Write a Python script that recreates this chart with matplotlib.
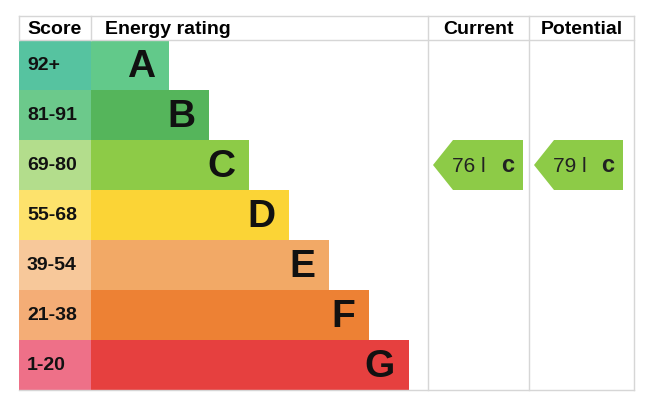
import matplotlib.pyplot as plt
from matplotlib.patches import Rectangle, Polygon

plt.rcParams['font.family'] = ['Liberation Sans', 'DejaVu Sans']

bands = ["A", "B", "C", "D", "E", "F", "G"]
score_ranges = ["92+", "81-91", "69-80", "55-68", "39-54", "21-38", "1-20"]
bar_colors = ["#62c98a", "#55b55b", "#8dcb47", "#fbd436", "#f2a966", "#ed8134", "#e6403f"]
score_colors = ["#56c3a0", "#6cc98b", "#b3dd8c", "#fde26c", "#f7c89a", "#f4ad76", "#ee7088"]

current_score = 76
current_band = "C"
potential_score = 79
potential_band = "C"

GRID = "#d6d6d6"

fig = plt.figure(figsize=(6.56, 4.07), dpi=100)
ax = fig.add_axes([0, 0, 1, 1])
ax.set_xlim(0, 656)
ax.set_ylim(407, 0)
ax.axis("off")

left, score_w = 19, 72
top, head_h, row_h = 16, 24, 50
col_cur, col_pot, right = 428, 529, 634
bottom = top + head_h + row_h * len(bands)

# header lines
ax.plot([left, right], [top, top], color=GRID, lw=1)
ax.plot([left, right], [top + head_h, top + head_h], color=GRID, lw=1)
ax.plot([left, right], [bottom, bottom], color=GRID, lw=1)
ax.plot([left, left], [top, top + head_h], color=GRID, lw=1)
ax.plot([left + score_w, left + score_w], [top, top + head_h], color=GRID, lw=1)
for x in (col_cur, col_pot, right):
    ax.plot([x, x], [top, bottom], color=GRID, lw=1)

hy = top + head_h / 2 + 1
ax.text(left + score_w / 2, hy, "Score", ha="center", va="center", fontsize=14, fontweight="bold")
ax.text(left + score_w + 14, hy, "Energy rating", ha="left", va="center", fontsize=14, fontweight="bold")
ax.text((col_cur + col_pot) / 2, hy, "Current", ha="center", va="center", fontsize=14, fontweight="bold")
ax.text((col_pot + right) / 2, hy, "Potential", ha="center", va="center", fontsize=14, fontweight="bold")

for i, (band, rng) in enumerate(zip(bands, score_ranges)):
    y0 = top + head_h + i * row_h
    bar_end = left + score_w + 78 + 40 * i
    ax.add_patch(Rectangle((left, y0), score_w, row_h, color=score_colors[i], lw=0))
    ax.add_patch(Rectangle((left + score_w, y0), bar_end - left - score_w, row_h,
                           color=bar_colors[i], lw=0))
    ax.text(left + 8, y0 + row_h / 2 + 1, rng, ha="left", va="center",
            fontsize=14, fontweight="bold", color="#111111")
    ax.text(bar_end - 14, y0 + row_h / 2 + 2, band, ha="right", va="center",
            fontsize=28, fontweight="bold", color="#111111")


def arrow(x0, x1, score, band):
    i = bands.index(band)
    y0 = top + head_h + i * row_h
    pts = [(x0, y0 + row_h / 2), (x0 + 20, y0), (x1, y0), (x1, y0 + row_h), (x0 + 20, y0 + row_h)]
    ax.add_patch(Polygon(pts, closed=True, color=bar_colors[i], lw=0))
    ax.text(x0 + 19, y0 + row_h / 2 + 1, f"{score} l", ha="left", va="center",
            fontsize=15, color="#222222")
    ax.text(x1 - 9, y0 + row_h / 2 + 1, band.lower(), ha="right", va="center",
            fontsize=17, fontweight="bold", color="#222222")


arrow(col_cur + 5, col_pot - 6, current_score, current_band)
arrow(col_pot + 5, right - 11, potential_score, potential_band)

fig.savefig("out.png", dpi=100)
